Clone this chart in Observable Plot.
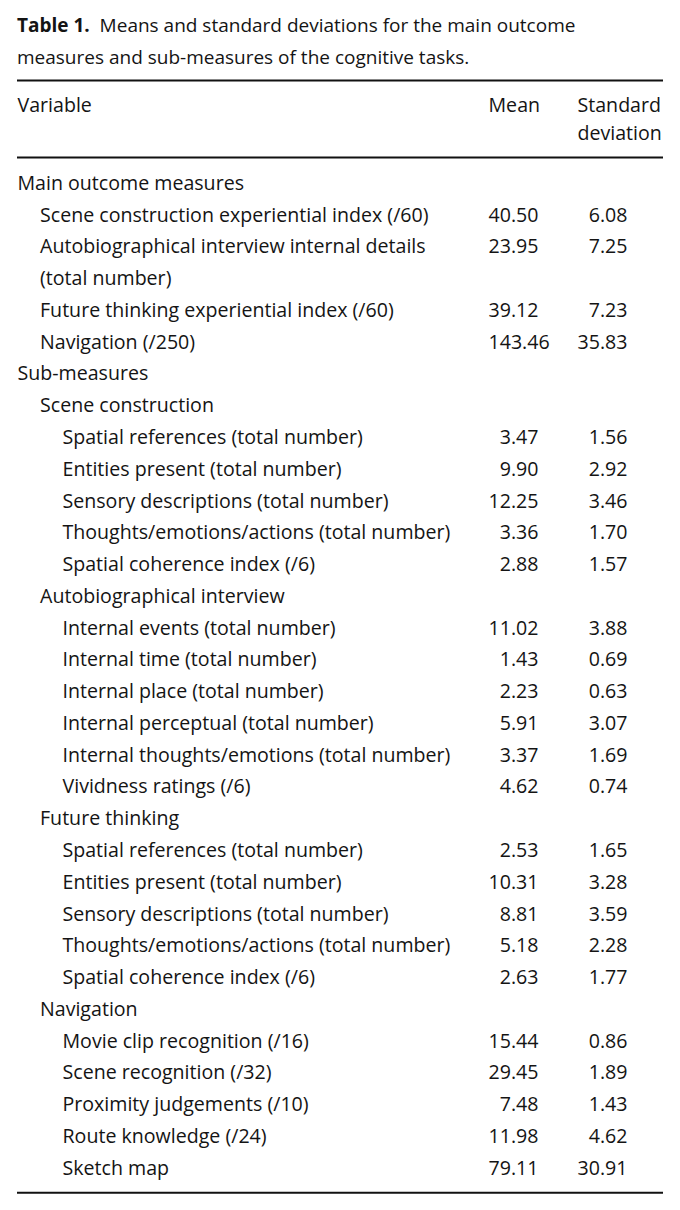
<!DOCTYPE html>
<html><head><meta charset="utf-8">
<script src="https://cdn.jsdelivr.net/npm/d3@7"></script>
<script src="https://cdn.jsdelivr.net/npm/@observablehq/plot@0.6"></script>
<style>
body{margin:0;background:#fff;font-family:"Open Sans",sans-serif;color:#141414;}
#wrap{position:relative;width:680px;height:1210px;}
#title{position:absolute;left:17px;top:9px;width:660px;font-size:19px;line-height:32px;}
#chart{position:absolute;left:0;top:0;}
</style></head><body>
<div id="wrap">
<div id="chart"></div>
<div id="title"><b>Table 1.</b>&nbsp; Means and standard deviations for the main outcome<br>measures and sub-measures of the cognitive tasks.</div>
</div>
<script>
// Table content
const labels = [
  "Main outcome measures",
  "Scene construction experiential index (/60)",
  "Autobiographical interview internal details",
  "(total number)",
  "Future thinking experiential index (/60)",
  "Navigation (/250)",
  "Sub-measures",
  "Scene construction",
  "Spatial references (total number)",
  "Entities present (total number)",
  "Sensory descriptions (total number)",
  "Thoughts/emotions/actions (total number)",
  "Spatial coherence index (/6)",
  "Autobiographical interview",
  "Internal events (total number)",
  "Internal time (total number)",
  "Internal place (total number)",
  "Internal perceptual (total number)",
  "Internal thoughts/emotions (total number)",
  "Vividness ratings (/6)",
  "Future thinking",
  "Spatial references (total number)",
  "Entities present (total number)",
  "Sensory descriptions (total number)",
  "Thoughts/emotions/actions (total number)",
  "Spatial coherence index (/6)",
  "Navigation",
  "Movie clip recognition (/16)",
  "Scene recognition (/32)",
  "Proximity judgements (/10)",
  "Route knowledge (/24)",
  "Sketch map"
];
const levels = [0,1,1,1,1,1,0,1,2,2,2,2,2,1,2,2,2,2,2,2,1,2,2,2,2,2,1,2,2,2,2,2];
const means = [null,40.50,23.95,null,39.12,143.46,null,null,3.47,9.90,12.25,3.36,2.88,null,11.02,1.43,2.23,5.91,3.37,4.62,null,2.53,10.31,8.81,5.18,2.63,null,15.44,29.45,7.48,11.98,79.11];
const sds = [null,6.08,7.25,null,7.23,35.83,null,null,1.56,2.92,3.46,1.70,1.57,null,3.88,0.69,0.63,3.07,1.69,0.74,null,1.65,3.28,3.59,2.28,1.77,null,0.86,1.89,1.43,4.62,30.91];
const headers = ["Variable", "Mean", "Standard", "deviation"];

const rows = labels.map((label, i) => ({row: i, label, level: levels[i], mean: means[i], sd: sds[i]}));
const withVals = rows.filter(d => d.mean != null);

// layout
const left = 17, right = 663, indent = 22.5;
const meanRight = 538, meanLeft = 488, sdRight = 627, sdLeft = 577;
const fmt = v => v.toFixed(2);

const hdr = [
  {text: headers[0], x: left, row: -2.45},
  {text: headers[1], x: meanLeft, row: -2.45},
  {text: headers[2], x: sdLeft, row: -2.45},
  {text: headers[3], x: sdLeft, row: -1.57}
];

const plot = Plot.plot({
  width: 680, height: 1210,
  margin: 0,
  x: {domain: [0, 680], range: [0, 680], axis: null},
  y: {domain: [0, 31], range: [183, 1168], axis: null},
  style: {fontFamily: "'Open Sans', sans-serif", fontSize: "19.6px", color: "#141414", background: "transparent"},
  marks: [
    Plot.ruleY([-3.24, -0.82, 31.76], {x1: left, x2: right, stroke: "#111", strokeWidth: 2}),
    Plot.text(hdr, {x: "x", y: "row", text: "text", textAnchor: "start", fill: "#141414"}),
    Plot.text(rows, {x: d => left + d.level * indent, y: "row", text: "label", textAnchor: "start", fill: "#141414"}),
    Plot.text(withVals.filter(d => d.mean < 100), {x: () => meanRight, y: "row", text: d => fmt(d.mean), textAnchor: "end", fill: "#141414"}),
    Plot.text(withVals.filter(d => d.mean >= 100), {x: () => meanLeft, y: "row", text: d => fmt(d.mean), textAnchor: "start", fill: "#141414"}),
    Plot.text(withVals, {x: () => sdRight, y: "row", text: d => fmt(d.sd), textAnchor: "end", fill: "#141414"})
  ]
});
document.getElementById("chart").append(plot);
</script>
</body></html>
